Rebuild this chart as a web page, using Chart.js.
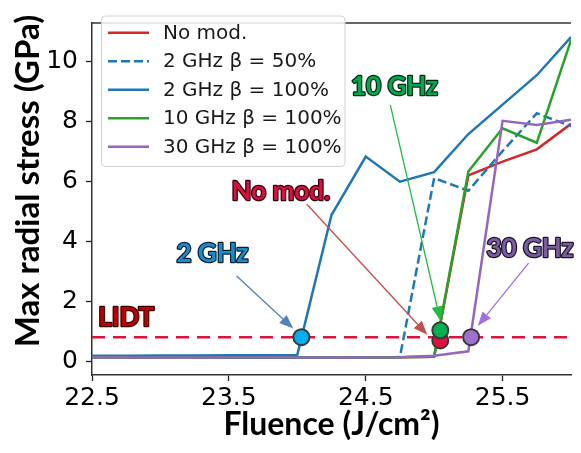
<!DOCTYPE html>
<html>
<head>
<meta charset="utf-8">
<script src="https://cdn.jsdelivr.net/npm/chart.js@4.4.0/dist/chart.umd.min.js"></script>
<style>
html, body { margin: 0; padding: 0; background: #fff; overflow: hidden; }
</style>
</head>
<body>
<canvas id="stressChart" width="581" height="453"></canvas>
<script>
// fluence grid (J/cm2) and max radial stress (GPa) for each case
const fluence   = [22.5, 22.75, 23.0, 23.25, 23.5, 23.75, 24.0, 24.25, 24.5, 24.75, 25.0, 25.25, 25.5, 25.75, 26.0];
const noMod     = [0.12, 0.12, 0.12, 0.12, 0.12, 0.12, 0.12, 0.12, 0.12, 0.13, 0.15, 6.19, 6.65, 7.06, 7.91];
const ghz2b50   = [0.12, 0.12, 0.12, 0.12, 0.12, 0.12, 0.12, 0.12, 0.12, 0.14, 6.10, 5.68, 7.00, 8.26, 7.83];
const ghz2b100  = [0.18, 0.18, 0.19, 0.19, 0.20, 0.20, 0.21, 4.87, 6.82, 5.98, 6.30, 7.57, 8.55, 9.53, 10.80];
const ghz10b100 = [0.12, 0.12, 0.12, 0.12, 0.12, 0.12, 0.12, 0.12, 0.12, 0.13, 0.15, 6.32, 7.76, 7.28, 10.70];
const ghz30b100 = [0.12, 0.12, 0.12, 0.12, 0.12, 0.12, 0.12, 0.12, 0.12, 0.13, 0.18, 0.33, 8.01, 7.87, 8.05];

const seriesLabels = ["No mod.", "2 GHz \u03b2 = 50%", "2 GHz \u03b2 = 100%", "10 GHz \u03b2 = 100%", "30 GHz \u03b2 = 100%"];
const seriesData = [noMod, ghz2b50, ghz2b100, ghz10b100, ghz30b100];
const seriesColors = ["#d62728", "#1f77b4", "#1f77b4", "#2ca02c", "#9467bd"];
const seriesDash = [[], [9, 4], [], [], []];

// damage threshold and the threshold points of each case
const lidt = 0.8;
const threshX = [24.03, 25.045, 25.045, 25.27];
const threshY = [0.80, 0.69, 1.03, 0.80];
const threshColors = ["#00b0f0", "#e0103c", "#00b050", "#a070d0"];

const xTicks = [22.5, 23.5, 24.5, 25.5];
const yTicks = [0, 2, 4, 6, 8, 10];

// callouts: text anchor and arrow from/to, in data units
const callouts = [
  { text: "LIDT",    tx: 22.75, ty: 1.46, fill: "#c00000", line: "#3a0000" },
  { text: "2 GHz",   tx: 23.38, ty: 3.60, fill: "#1a8cc8", line: "#0a2238", from: [23.557, 2.84], to: [23.97, 1.09], arrow: "#4f81bd" },
  { text: "No mod.", tx: 23.88, ty: 5.66, fill: "#d8103c", line: "#300010", from: [24.07, 5.23],  to: [24.95, 0.88], arrow: "#c0504d" },
  { text: "10 GHz",  tx: 24.71, ty: 9.14, fill: "#00a650", line: "#002a10", from: [24.68, 8.53],  to: [25.045, 1.36], arrow: "#22bb44" },
  { text: "30 GHz",  tx: 25.70, ty: 3.76, fill: "#7a5ca0", line: "#1e1428", from: [25.69, 3.27],  to: [25.32, 1.18], arrow: "#a070e0" }
];

const datasets = seriesData.map((vals, i) => ({
  label: seriesLabels[i],
  data: vals.map((v, j) => ({ x: fluence[j], y: v })),
  borderColor: seriesColors[i],
  borderDash: seriesDash[i],
  borderWidth: 2.5,
  pointRadius: 0,
  tension: 0,
  order: 10 - i
}));

datasets.push({
  label: "LIDT",
  data: [{ x: 22.5, y: lidt }, { x: 26.0, y: lidt }],
  borderColor: "#dc143c",
  borderDash: [13, 8],
  borderWidth: 2.5,
  pointRadius: 0,
  order: 2
});

datasets.push({
  label: "threshold",
  type: "scatter",
  data: threshX.map((x, i) => ({ x: x, y: threshY[i] })),
  pointRadius: 8,
  pointBackgroundColor: threshColors,
  pointBorderColor: "#3a3a3a",
  pointBorderWidth: 2,
  order: 1
});

function drawArrow(ctx, x1, y1, x2, y2, color) {
  const ang = Math.atan2(y2 - y1, x2 - x1);
  const headLen = 14, headW = 5.5;
  const bx = x2 - headLen * Math.cos(ang), by = y2 - headLen * Math.sin(ang);
  ctx.strokeStyle = color;
  ctx.fillStyle = color;
  ctx.lineWidth = 1.3;
  ctx.beginPath();
  ctx.moveTo(x1, y1);
  ctx.lineTo(bx, by);
  ctx.stroke();
  ctx.beginPath();
  ctx.moveTo(x2, y2);
  ctx.lineTo(bx + headW * Math.sin(ang), by - headW * Math.cos(ang));
  ctx.lineTo(bx - headW * Math.sin(ang), by + headW * Math.cos(ang));
  ctx.closePath();
  ctx.fill();
}

const extras = {
  id: "extras",
  afterDatasetsDraw(chart) {
    const ctx = chart.ctx;
    const area = chart.chartArea;
    ctx.save();
    // top spine
    ctx.strokeStyle = "#333";
    ctx.lineWidth = 1.5;
    ctx.beginPath();
    ctx.moveTo(area.left, area.top);
    ctx.lineTo(area.right, area.top);
    ctx.stroke();

    // legend box
    const lx = 101.5, ly = 16, lw = 243.5, lh = 150.5;
    ctx.fillStyle = "rgba(255,255,255,0.85)";
    ctx.strokeStyle = "#d0d0d0";
    ctx.lineWidth = 1;
    ctx.beginPath();
    ctx.roundRect(lx, ly, lw, lh, 4);
    ctx.fill();
    ctx.stroke();
    ctx.font = "20px 'DejaVu Sans'";
    ctx.textBaseline = "middle";
    ctx.textAlign = "left";
    seriesLabels.forEach((lab, i) => {
      const y = 32.7 + i * 28.5;
      ctx.strokeStyle = seriesColors[i];
      ctx.lineWidth = 2.5;
      ctx.setLineDash(seriesDash[i]);
      ctx.beginPath();
      ctx.moveTo(108, y);
      ctx.lineTo(149, y);
      ctx.stroke();
      ctx.setLineDash([]);
      ctx.fillStyle = "#1a1a1a";
      ctx.fillText(lab, 163, y + 1);
    });
    ctx.restore();
  },
  afterDraw(chart) {
    const ctx = chart.ctx;
    const xs = chart.scales.x, ys = chart.scales.y;
    ctx.save();
    // y axis title
    ctx.translate(28, 181);
    ctx.rotate(-Math.PI / 2);
    ctx.font = "bold 33px Lato";
    ctx.fillStyle = "#000";
    ctx.textAlign = "center";
    ctx.textBaseline = "middle";
    ctx.fillText("Max radial stress (GPa)", 0, 0);
    ctx.restore();

    ctx.save();
    callouts.forEach(c => {
      if (c.from) {
        drawArrow(ctx, xs.getPixelForValue(c.from[0]), ys.getPixelForValue(c.from[1]),
          xs.getPixelForValue(c.to[0]), ys.getPixelForValue(c.to[1]), c.arrow);
      }
    });
    ctx.font = "bold 26px Lato";
    ctx.textAlign = "center";
    ctx.textBaseline = "middle";
    ctx.lineJoin = "round";
    callouts.forEach(c => {
      const px = xs.getPixelForValue(c.tx), py = ys.getPixelForValue(c.ty);
      ctx.strokeStyle = c.line;
      ctx.lineWidth = 2.5;
      ctx.strokeText(c.text, px, py);
      ctx.fillStyle = c.fill;
      ctx.fillText(c.text, px, py);
    });
    ctx.restore();
  }
};

new Chart(document.getElementById("stressChart"), {
  type: "line",
  data: { datasets: datasets },
  plugins: [extras],
  options: {
    responsive: false,
    animation: false,
    layout: { padding: { top: 6.5, right: 0, left: 0, bottom: 0 } },
    plugins: { legend: { display: false }, tooltip: { enabled: false } },
    scales: {
      x: {
        type: "linear",
        min: 22.5,
        max: 26.0,
        afterBuildTicks: s => { s.ticks = xTicks.map(v => ({ value: v })); },
        afterFit: s => { s.height = 78; },
        ticks: {
          font: { family: "DejaVu Sans", size: 25 },
          color: "#000",
          padding: 2,
          callback: v => v.toFixed(1)
        },
        grid: { drawOnChartArea: false, tickLength: 6, tickColor: "#222", tickWidth: 1.3 },
        border: { color: "#333", width: 1.5 },
        title: {
          display: true,
          text: "Fluence (J/cm\u00b2)",
          font: { family: "Lato", size: 32, weight: "bold" },
          color: "#000",
          padding: { top: 0, bottom: 9 }
        }
      },
      y: {
        type: "linear",
        min: -0.46,
        max: 11.27,
        afterBuildTicks: s => { s.ticks = yTicks.map(v => ({ value: v })); },
        afterFit: s => { s.width = 92; },
        ticks: {
          font: { family: "DejaVu Sans", size: 25 },
          color: "#000",
          padding: 8
        },
        grid: { drawOnChartArea: false, tickLength: 6, tickColor: "#222", tickWidth: 1.3 },
        border: { color: "#333", width: 1.5 }
      }
    }
  }
});
</script>
</body>
</html>
